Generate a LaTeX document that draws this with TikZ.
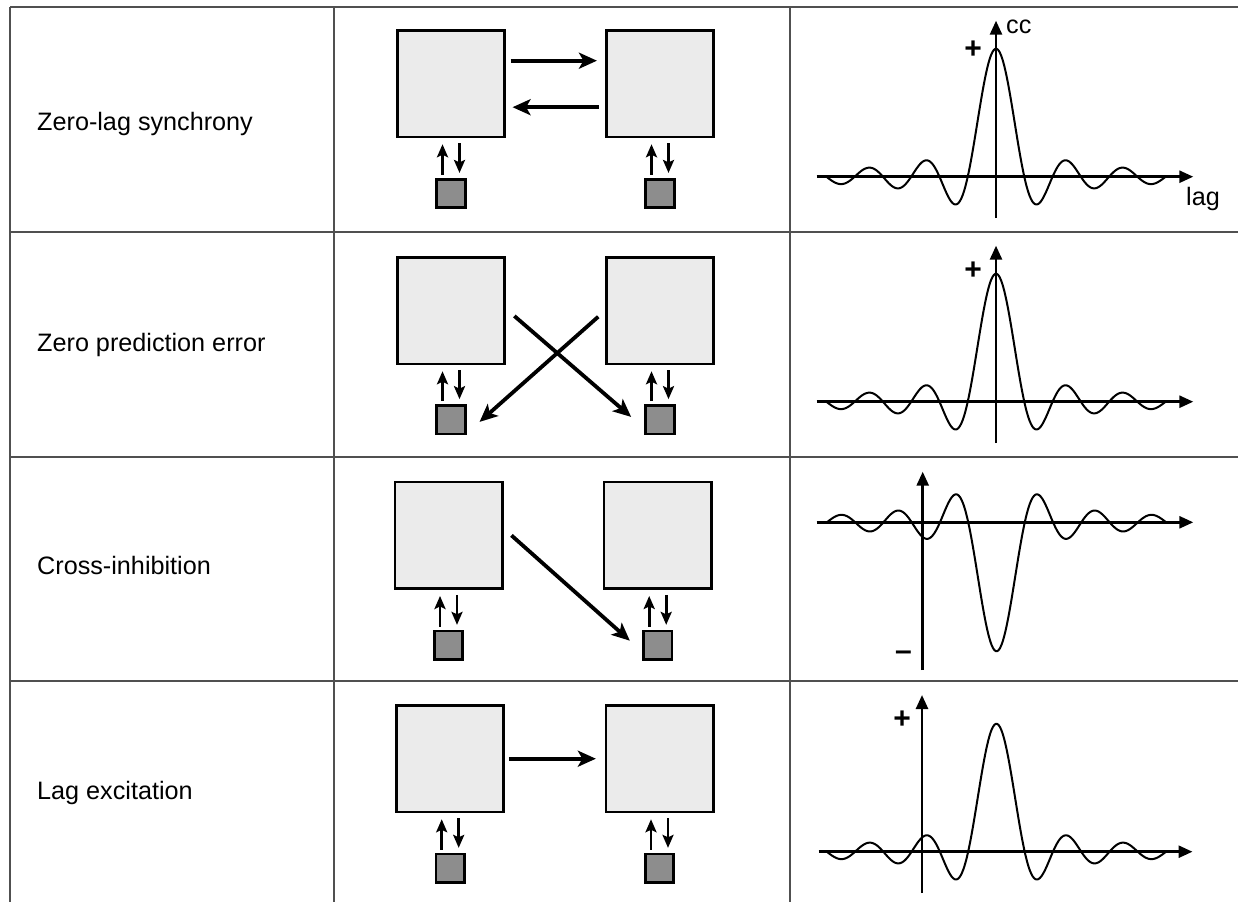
\documentclass[tikz,border=0pt]{standalone}
\usepackage{fontspec}
\setmainfont{Liberation Sans}
\usetikzlibrary{arrows.meta,calc}
\definecolor{tline}{RGB}{80,80,80}
\definecolor{bigfill}{RGB}{235,235,235}
\definecolor{smallfill}{RGB}{141,141,141}
\begin{document}
\begin{tikzpicture}[x=1pt,y=-1pt,
  tableline/.style={draw=tline,line width=2.2pt},
  bigbox/.style={draw=black,line width=2.6pt,fill=bigfill,minimum width=107.5pt,minimum height=106.5pt,inner sep=0pt},
  smallbox/.style={draw=black,line width=2.6pt,fill=smallfill,minimum size=28.5pt,inner sep=0pt},
  bigarrow/.style={line width=3.8pt,-{Stealth[length=18pt,width=16pt,inset=4.5pt]}},
  smallarrow/.style={line width=2.6pt,-{Stealth[length=13pt,width=11pt,inset=2.5pt]}},
  axis/.style={line width=2.6pt,-{Triangle[length=14pt,width=12pt]}},
  curve/.style={line width=2pt,line join=round},
  rowlabel/.style={anchor=base west,inner sep=0pt,font=\fontsize{25.2}{28}\selectfont},
  axlabel/.style={inner sep=0pt,font=\fontsize{25.2}{28}\selectfont},
  sign/.style={inner sep=0pt,font=\bfseries\fontsize{30}{32}\selectfont}]
\useasboundingbox (0,0) rectangle (1238,902);
\fill[white] (0,0) rectangle (1238,902);
% table
\draw[tableline] (10,7) -- (1238,7);
\draw[tableline] (10,7) -- (10,902);
\draw[tableline] (334,7) -- (334,902);
\draw[tableline] (790,7) -- (790,902);
\draw[tableline] (10,232) -- (1238,232);
\draw[tableline] (10,457) -- (1238,457);
\draw[tableline] (10,681) -- (1238,681);
% row labels
\node[rowlabel] (l1) at (37,130) {Zero-lag synchrony};
\node[rowlabel] (l2) at (37,351) {Zero prediction error};
\node[rowlabel] (l3) at (37,574) {Cross-inhibition};
\node[rowlabel] (l4) at (37,799) {Lag excitation};
% boxes
\node[bigbox] (a1) at (451,83.7) {};
\node[bigbox] (b1) at (660,83.7) {};
\node[smallbox] (sa1) at (451,193.5) {};
\node[smallbox] (sb1) at (660,193.5) {};
\node[bigbox] (a2) at (451,310.7) {};
\node[bigbox] (b2) at (660,310.7) {};
\node[smallbox] (sa2) at (451,419.7) {};
\node[smallbox] (sb2) at (660,419.7) {};
\node[bigbox] (a3) at (448.7,535.4) {};
\node[bigbox] (b3) at (657.7,535.4) {};
\node[smallbox] (sa3) at (448.5,645.4) {};
\node[smallbox] (sb3) at (657.7,645.4) {};
\node[bigbox] (a4) at (450,758.7) {};
\node[bigbox] (b4) at (659.7,758.7) {};
\node[smallbox] (sa4) at (450.2,868.4) {};
\node[smallbox] (sb4) at (659.5,868.4) {};
% small up/down arrows
\foreach \s/\b in {sa1/a1,sb1/b1,sa2/a2,sb2/b2,sa3/a3,sb3/b3,sa4/a4,sb4/b4}{
  \draw[smallarrow,shorten <=3pt,shorten >=6pt] ([xshift=-8.5pt]\s.north) -- ([xshift=-8.5pt]\s.north |- \b.south);
  \draw[smallarrow,shorten <=5pt,shorten >=5pt] ([xshift=8.5pt]\s.north |- \b.south) -- ([xshift=8.5pt]\s.north);
}
% row 1 arrows
\draw[bigarrow] ([yshift=23pt,xshift=4.5pt]a1.east) -- ([yshift=23pt,xshift=-8pt]b1.west);
\draw[bigarrow] ([yshift=-23.5pt,xshift=-6pt]b1.west) -- ([yshift=-23.5pt,xshift=6.5pt]a1.east);
% row 2 arrows
\draw[bigarrow] ($(a2.east)+(8.3,5.3)$) -- ($(sb2.west)+(-13.3,-2.8)$);
\draw[bigarrow] ($(b2.west)+(-6.7,6)$) -- ($(sa2.east)+(13,2.2)$);
% row 3 arrow
\draw[bigarrow] ($(a3.east)+(7.7,0)$) -- ($(sb3.west)+(-12.3,-4.7)$);
% row 4 arrow
\draw[bigarrow] ($(a4.east)+(3.7,0)$) -- ($(b4.west)+(-8.8,0)$);
% plot 1
\coordinate (h1s) at (816.7,176.7); \coordinate (h1e) at (1193.3,176.7);
\coordinate (v1s) at (996,218); \coordinate (v1e) at (996,20.7);
\draw[curve] plot[domain=-169.6:169.6,samples=240,smooth] ({996+\x},{176.7-128*sin(deg(\x/9))/(\x/9)});
\draw[axis] (h1s) -- (h1e);
\draw[axis] (v1s) -- (v1e);
\node[axlabel,anchor=base west] (cc) at (1006,33) {cc};
\node[axlabel,anchor=base west] (lag) at (1186,205) {lag};
\node[sign] (p1) at (973,50) {+};
% plot 2
\coordinate (h2s) at (816.7,401.7); \coordinate (h2e) at (1193.3,401.7);
\coordinate (v2s) at (996,443); \coordinate (v2e) at (996,245.7);
\draw[curve] plot[domain=-169.6:169.6,samples=240,smooth] ({996+\x},{401.7-128*sin(deg(\x/9))/(\x/9)});
\draw[axis] (h2s) -- (h2e);
\draw[axis] (v2s) -- (v2e);
\node[sign] (p2) at (973,271) {+};
% plot 3
\coordinate (h3s) at (816.7,522.3); \coordinate (h3e) at (1193.3,522.3);
\coordinate (v3s) at (922.7,670); \coordinate (v3e) at (922.7,471.7);
\draw[curve] plot[domain=-169.6:169.6,samples=240,smooth] ({996.5+\x},{522.3+129*sin(deg(\x/9))/(\x/9)});
\draw[axis] (h3s) -- (h3e);
\draw[axis] (v3s) -- (v3e);
\node[sign] (m3) at (903.5,655.7) {–};
% plot 4
\coordinate (h4s) at (818.7,851.7); \coordinate (h4e) at (1192.5,851.7);
\coordinate (v4s) at (922,893); \coordinate (v4e) at (922,695);
\draw[curve] plot[domain=-169.6:169.6,samples=240,smooth] ({996.4+\x},{851.7-128*sin(deg(\x/9))/(\x/9)});
\draw[axis] (h4s) -- (h4e);
\draw[axis] (v4s) -- (v4e);
\node[sign] (p4) at (902,720) {+};
\end{tikzpicture}
\end{document}
